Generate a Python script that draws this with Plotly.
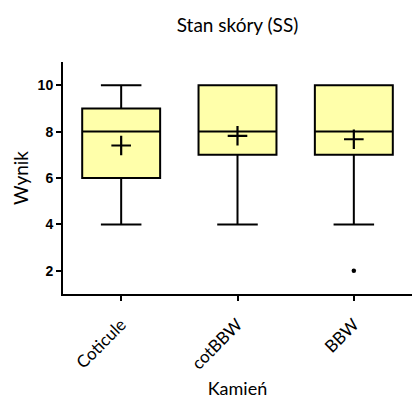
import plotly.graph_objects as go

categories = ["Coticule", "cotBBW", "BBW"]
q1 = [6, 7, 7]
median = [8, 8, 8]
q3 = [9, 10, 10]
lower_whisker = [4, 4, 4]
upper_whisker = [10, 10, 10]
means = [7.4, 7.82, 7.67]
outlier_cat = ["BBW"]
outlier_val = [2]
y_ticks = [2, 4, 6, 8, 10]

fig = go.Figure()
fig.add_trace(go.Box(
    x=categories, q1=q1, median=median, q3=q3,
    lowerfence=lower_whisker, upperfence=upper_whisker,
    fillcolor="#FFFFAA", line=dict(color="black", width=2),
    width=0.67, whiskerwidth=0.52, boxpoints=False, showlegend=False, hoverinfo="skip",
))
fig.add_trace(go.Scatter(
    x=categories, y=means, mode="markers",
    marker=dict(symbol="cross-thin", size=14, line=dict(color="black", width=2.2)),
    showlegend=False,
))
fig.add_trace(go.Scatter(
    x=outlier_cat, y=outlier_val, mode="markers",
    marker=dict(symbol="circle", size=4.5, color="black"),
    showlegend=False,
))

fig.update_layout(
    width=412, height=400,
    margin=dict(l=63, r=0, t=62, b=106),
    plot_bgcolor="white", paper_bgcolor="white",
    title=dict(text="Stan skóry (SS)", x=0.5, xref="paper", y=1 - 25 / 400, yref="container",
               xanchor="center", yanchor="middle",
               font=dict(family="Lato", size=19, color="black")),
    xaxis=dict(
        range=[-0.5, 2.5], showline=True, linecolor="black", linewidth=2,
        ticks="outside", ticklen=5, tickwidth=2, tickcolor="black",
        tickangle=-45, tickfont=dict(family="Lato", size=17, color="black"),
        ticklabelstandoff=7,
        showgrid=False, zeroline=False,
        title=dict(text="Kamień", font=dict(family="Lato", size=18, color="black"), standoff=10),
    ),
    yaxis=dict(
        range=[1, 11], showline=True, linecolor="black", linewidth=2,
        ticks="outside", ticklen=5, tickwidth=2, tickcolor="black",
        tickvals=y_ticks,
        tickfont=dict(family="Liberation Sans", size=14, color="black", weight="bold"),
        showgrid=False, zeroline=False,
        title=dict(text="Wynik", font=dict(family="Lato", size=19, color="black"), standoff=4),
    ),
)

fig.write_html("out.html")
